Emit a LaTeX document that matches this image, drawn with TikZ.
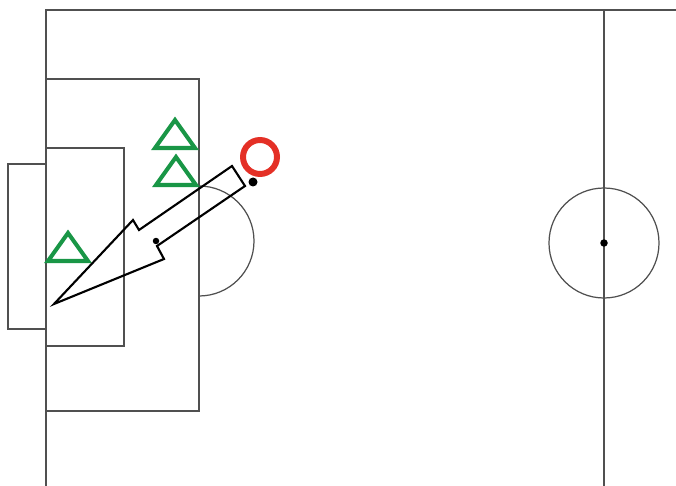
\documentclass[tikz,border=0pt]{standalone}
\usepackage{tikz}
\usetikzlibrary{arrows.meta, positioning, shapes.geometric}
\usepackage{xcolor}
\definecolor{defgreen}{RGB}{25,150,70}
\definecolor{carrierred}{RGB}{228,48,38}
\definecolor{linegray}{RGB}{80,80,80}

\begin{document}
\begin{tikzpicture}[x=0.02cm, y=-0.02cm,
    pitchline/.style={draw=linegray, line width=0.7pt},
    spot/.style={circle, fill=black, inner sep=0pt, minimum size=0.13cm},
    ball/.style={circle, fill=black, inner sep=0pt, minimum size=0.18cm},
    carrier/.style={circle, draw=carrierred, line width=3.4pt, inner sep=0pt, minimum size=0.68cm},
    defline/.style={draw=defgreen, line width=2.3pt, line join=miter},
    defender/.pic={\draw[defline] (-20,14) -- (0,-14) -- (20,14) -- cycle;},
    shotarrow/.style={draw=black, line width=1.2pt, line join=miter}]
    \useasboundingbox (0,0) rectangle (676,486);
    \draw[pitchline] (46,486) -- (46,10) -- (676,10);
    \draw[pitchline] (604,10) -- (604,486);
    \draw[pitchline] (604,243) circle[radius=55];
    \node[spot, minimum size=0.15cm] (centrespot) at (604,243) {};
    \draw[pitchline] (46,79) rectangle (199,411);
    \draw[pitchline] (46,148) rectangle (124,346);
    \draw[pitchline] (46,164) -- (8,164) -- (8,329) -- (46,329);
    \draw[pitchline] (199,186) arc[start angle=-90, end angle=90, radius=55];
    \node[spot] (penspot) at (156,241) {};
    \pic (def1) at (175,134) {defender};
    \pic (def2) at (176,171) {defender};
    \pic (def3) at (68,247) {defender};
    \draw[shotarrow] (54,304) -- (133,220) -- (139,230) -- (232,166)
      -- (245,186) -- (157,246) -- (164,259) -- cycle;
    \node[ball] (ball) at (253,182) {};
    \node[carrier] (carrier) at (260,157) {};
\end{tikzpicture}
\end{document}
